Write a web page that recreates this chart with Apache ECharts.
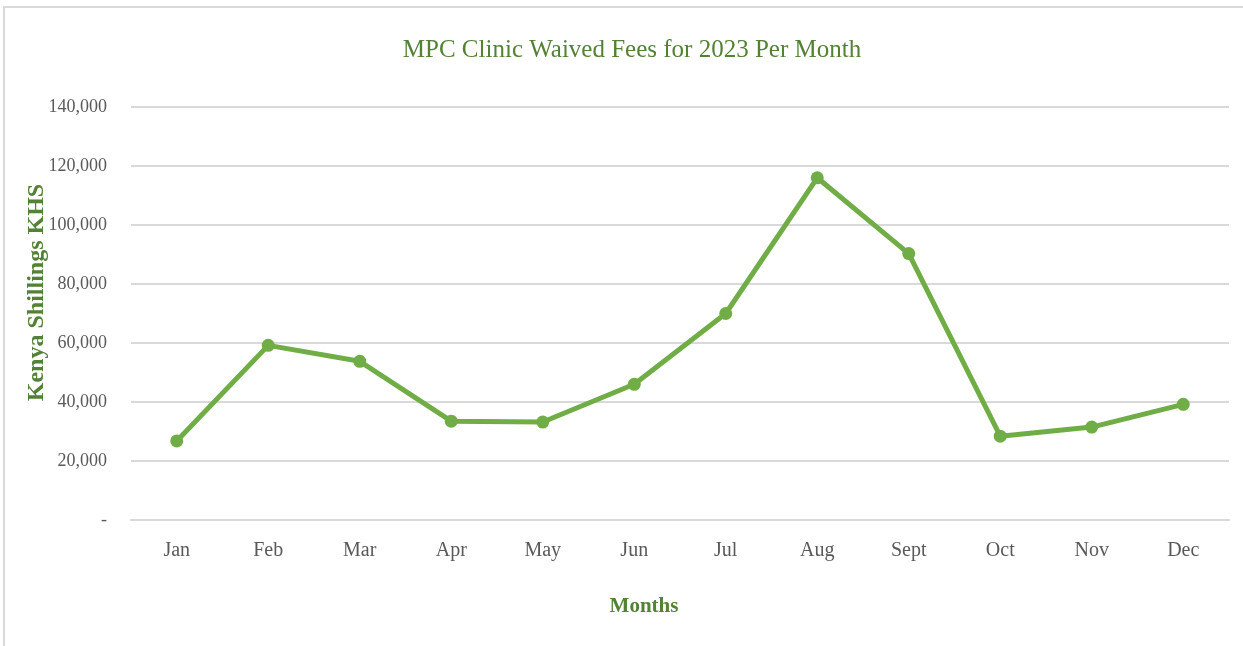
<!DOCTYPE html>
<html>
<head>
<meta charset="utf-8">
<script src="https://cdn.jsdelivr.net/npm/echarts@6/dist/echarts.min.js"></script>
<style>
  html, body { margin: 0; padding: 0; background: #fff; }
  #main { width: 1243px; height: 646px; }
</style>
</head>
<body>
<div id="main"></div>
<script>
// data
var months = ['Jan', 'Feb', 'Mar', 'Apr', 'May', 'Jun', 'Jul', 'Aug', 'Sept', 'Oct', 'Nov', 'Dec'];
var waivedFees = [26800, 59200, 53800, 33500, 33200, 46000, 70000, 116000, 90300, 28400, 31500, 39200];
var yTicks = [0, 20000, 40000, 60000, 80000, 100000, 120000, 140000];

var serif = '"Liberation Serif", "DejaVu Serif", serif';
var green = '#70AD47';
var darkGreen = '#538135';

function fmtNum(v) {
    if (v === 0) return '-';
    return v.toString().replace(/\B(?=(\d{3})+(?!\d))/g, ',');
}

var option = {
    backgroundColor: '#fff',
    animation: false,
    graphic: [{
        type: 'rect',
        shape: { x: 4, y: 7, width: 1400, height: 800 },
        style: { fill: 'none', stroke: '#d9d9d9', lineWidth: 2 },
        silent: true
    }],
    title: {
        text: 'MPC Clinic Waived Fees for 2023 Per Month',
        left: 627,
        top: 33,
        textAlign: 'center',
        textStyle: {
            fontFamily: serif,
            fontSize: 25,
            fontWeight: 'normal',
            color: darkGreen
        }
    },
    grid: {
        left: 131,
        right: 14,
        top: 107,
        bottom: 126
    },
    xAxis: {
        type: 'category',
        data: months,
        boundaryGap: true,
        name: 'Months',
        nameLocation: 'middle',
        nameGap: 76,
        nameTextStyle: {
            fontFamily: serif,
            fontSize: 21,
            fontWeight: 'bold',
            color: darkGreen,
            padding: [0, 72, 0, 0]
        },
        axisLine: { show: true, lineStyle: { color: '#d9d9d9', width: 2 } },
        axisTick: { show: false },
        axisLabel: {
            margin: 21,
            fontFamily: serif,
            fontSize: 20,
            color: '#595959'
        }
    },
    yAxis: {
        type: 'value',
        min: yTicks[0],
        max: yTicks[yTicks.length - 1],
        interval: yTicks[1] - yTicks[0],
        name: 'Kenya Shillings KHS',
        nameLocation: 'middle',
        nameGap: 82,
        nameMoveOverlap: false,
        nameTextStyle: {
            fontFamily: serif,
            fontSize: 24,
            fontWeight: 'bold',
            color: darkGreen,
            padding: [0, 0, 0, 42]
        },
        axisLine: { show: false },
        axisTick: { show: false },
        axisLabel: {
            margin: 24,
            fontFamily: serif,
            fontSize: 18,
            color: '#595959',
            formatter: fmtNum
        },
        splitLine: { lineStyle: { color: '#d9d9d9', width: 2 } }
    },
    series: [{
        name: 'Waived Fees',
        type: 'line',
        data: waivedFees,
        symbol: 'circle',
        symbolSize: 13,
        lineStyle: { color: green, width: 5 },
        itemStyle: { color: green }
    }]
};

var chart = echarts.init(document.getElementById('main'));
chart.setOption(option);
</script>
</body>
</html>
